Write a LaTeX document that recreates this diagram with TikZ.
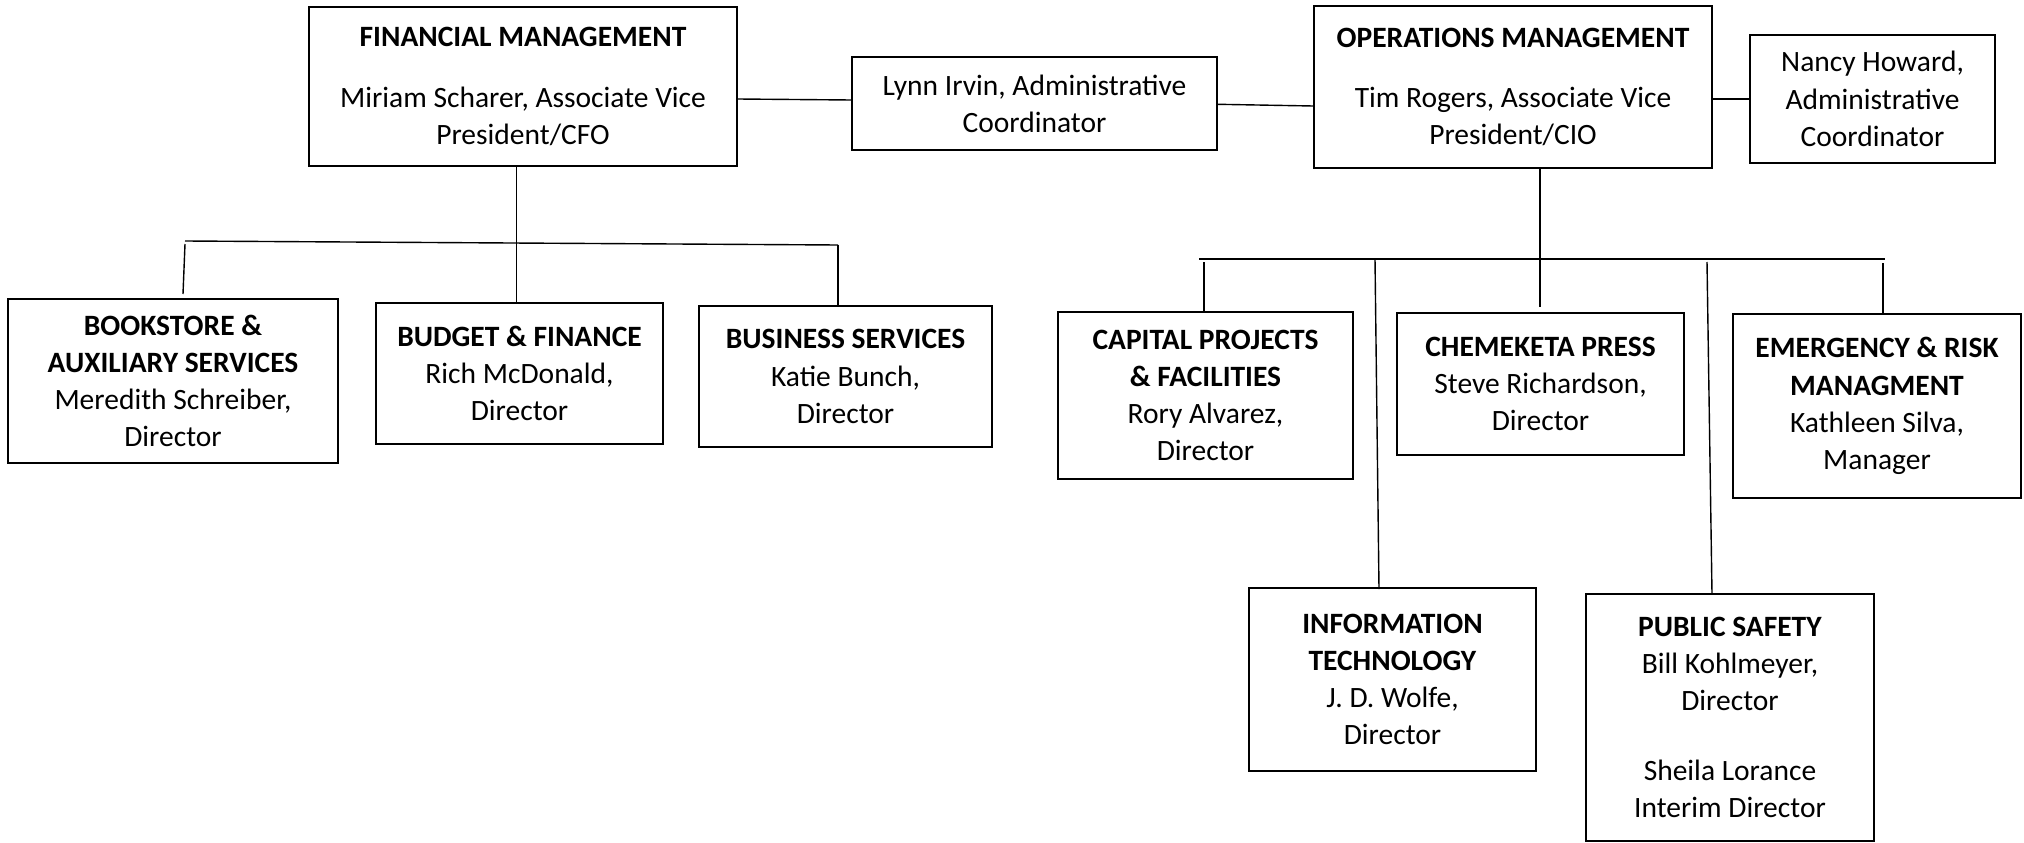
\documentclass[tikz,border=0pt]{standalone}
\usepackage{fontspec}
\setmainfont{Carlito}
\newcommand\bodyfont{\fontsize{29.5}{37.2}\selectfont}
\tikzset{
  box/.style 2 args={draw, line width=1.6pt, minimum width=#1pt, minimum height=#2pt,
    inner sep=0pt, align=center, font=\bodyfont},
  link/.style={line width=1.4pt}
}
\begin{document}
\begin{tikzpicture}[x=1pt,y=-1pt]
\useasboundingbox[fill=white] (0,0) rectangle (2024,843);
% top level
\node[box={428}{159}] (fm) at (523,86.5) {\textbf{FINANCIAL MANAGEMENT}\\[24pt]Miriam Scharer, Associate Vice\\President/CFO};
\node[box={365}{93}] (lynn) at (1034.5,103.5) {Lynn Irvin, Administrative\\Coordinator};
\node[box={398}{162}] (om) at (1513,87) {\textbf{OPERATIONS MANAGEMENT}\\[23pt]Tim Rogers, Associate Vice\\President/CIO};
\node[box={245}{128}] (nancy) at (1872.5,99) {Nancy Howard,\\Administrative\\Coordinator};
% financial units
\node[box={330}{164}] (book) at (173,381) {\textbf{BOOKSTORE \&}\\\textbf{AUXILIARY SERVICES}\\Meredith Schreiber,\\Director};
\node[box={287}{141}] (budget) at (519.5,373.5) {\textbf{BUDGET \& FINANCE}\\Rich McDonald,\\Director};
\node[box={293}{141}] (busi) at (845.5,376.5) {\textbf{BUSINESS SERVICES}\\Katie Bunch,\\Director};
% operations units
\node[box={295}{167}] (cap) at (1205.5,395.5) {\textbf{CAPITAL PROJECTS}\\\textbf{\& FACILITIES}\\Rory Alvarez,\\Director};
\node[box={287}{142}] (chem) at (1540.5,384) {\textbf{CHEMEKETA PRESS}\\Steve Richardson,\\Director};
\node[box={288}{184}] (emer) at (1877,406) {\textbf{EMERGENCY \& RISK}\\\textbf{MANAGMENT}\\Kathleen Silva,\\Manager};
\node[box={287}{183}] (it) at (1392.5,679.5) {\textbf{INFORMATION}\\\textbf{TECHNOLOGY}\\J. D. Wolfe,\\Director};
\node[box={288}{247}] (ps) at (1730,717.5) {\textbf{PUBLIC SAFETY}\\Bill Kohlmeyer,\\Director\\[33pt]Sheila Lorance\\Interim Director};
% coordinates
\coordinate (lbl) at (185,241);
\coordinate (lbr) at (838,245);
\coordinate (lmid) at (516.5,243);
\coordinate (bkend) at (183,294);
\coordinate (rbl) at (1199,259);
\coordinate (rbr) at (1885,259);
\coordinate (chemend) at (1540,307);
\coordinate (itstart) at (1375,259);
\coordinate (itend) at (1379,589);
\coordinate (psstart) at (1707,262);
\coordinate (psend) at (1712,594);
\coordinate (capstart) at (1204,262);
\coordinate (emstart) at (1883,263);
% connectors top
\draw[link] (fm.east |- 0,99) -- (lynn.west |- 0,100);
\draw[link] (lynn.east |- 0,104.3) -- (om.west |- 0,106);
\draw[link] (om.east |- nancy.west) -- (nancy.west);
% left tree
\draw[link] (fm.south -| lmid) -- (budget.north -| lmid);
\draw[link] (lbl) -- (lbr);
\draw[link] (lbl |- 0,244) -- (bkend);
\draw[link] (lbr) -- (busi.north -| lbr);
% right tree
\draw[link] (om.south -| chemend) -- (chemend);
\draw[link] (rbl) -- (rbr);
\draw[link] (capstart) -- (cap.north -| capstart);
\draw[link] (itstart) -- (itend);
\draw[link] (psstart) -- (psend);
\draw[link] (emstart) -- (emer.north -| emstart);
\end{tikzpicture}
\end{document}
